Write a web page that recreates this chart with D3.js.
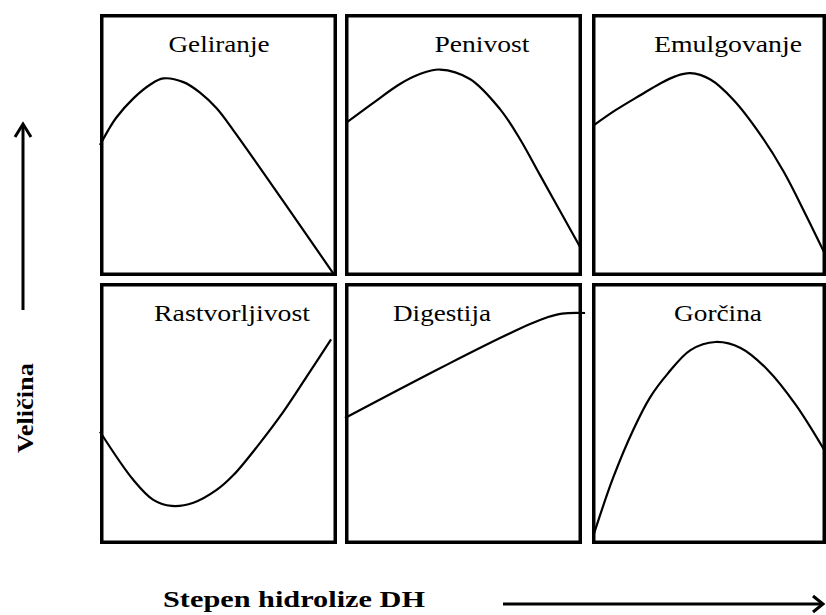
<!DOCTYPE html>
<html>
<head>
<meta charset="utf-8">
<script src="https://cdn.jsdelivr.net/npm/d3@7"></script>
<style>
  body { margin: 0; background: #fff; }
  text { font-family: "Liberation Serif", "Times New Roman", serif; fill: #000; }
</style>
</head>
<body>
<script>
// panel titles, left to right, top row then bottom row
var titles = ["Geliranje", "Penivost", "Emulgovanje", "Rastvorljivost", "Digestija", "Gorčina"];

// curve points, x and y as share of the panel (0..1, y up)
var gelX = [0, 0.035, 0.070, 0.141, 0.211, 0.267, 0.352, 0.422, 0.492, 0.562, 0.773, 0.984];
var gelY = [0.500, 0.557, 0.606, 0.678, 0.730, 0.754, 0.740, 0.700, 0.640, 0.557, 0.286, 0.010];
var penX = [0.004, 0.118, 0.232, 0.316, 0.401, 0.527, 0.654, 0.738, 0.823, 0.992];
var penY = [0.584, 0.660, 0.733, 0.771, 0.788, 0.752, 0.637, 0.523, 0.385, 0.111];
var emuX = [0.004, 0.099, 0.206, 0.292, 0.356, 0.420, 0.506, 0.605, 0.721, 0.820, 0.914, 0.991];
var emuY = [0.573, 0.632, 0.690, 0.735, 0.762, 0.774, 0.750, 0.672, 0.538, 0.397, 0.233, 0.092];
var rasX = [0, 0.141, 0.225, 0.302, 0.394, 0.492, 0.563, 0.668, 0.774, 0.872, 0.975];
var rasY = [0.430, 0.245, 0.169, 0.146, 0.158, 0.207, 0.264, 0.379, 0.507, 0.641, 0.784];
var digX = [0, 0.232, 0.443, 0.654, 0.781, 0.857, 0.916, 1.013];
var digY = [0.483, 0.594, 0.693, 0.789, 0.843, 0.870, 0.883, 0.885];
var gorX = [0.004, 0.090, 0.176, 0.249, 0.322, 0.421, 0.528, 0.635, 0.751, 0.871, 1.0];
var gorY = [0.027, 0.253, 0.437, 0.563, 0.651, 0.743, 0.774, 0.751, 0.667, 0.533, 0.349];

var yLabel = "Veličina";
var xLabel = "Stepen hidrolize DH";

var width = 826, height = 615;
var cols = [[100, 337], [345, 582], [592, 826]];
var rows = [[14, 276], [283, 544]];
// title placement: centre x, and width as drawn
var titleCx = [219, 482, 728, 232, 442, 718];
var titleW = [101, 95, 148, 156, 98, 88];

var svg = d3.select("body").append("svg")
    .attr("width", width)
    .attr("height", height);

var curves = [
  [gelX, gelY], [penX, penY], [emuX, emuY],
  [rasX, rasY], [digX, digY], [gorX, gorY]
];

curves.forEach(function (c, i) {
  var col = cols[i % 3], row = rows[Math.floor(i / 3)];
  var x = d3.scaleLinear().domain([0, 1]).range([col[0], col[1]]);
  var y = d3.scaleLinear().domain([0, 1]).range([row[1], row[0]]);
  var pts = c[0].map(function (v, k) { return [v, c[1][k]]; });

  var g = svg.append("g").attr("class", "panel");

  g.append("rect")
      .attr("x", col[0] + 1.75)
      .attr("y", row[0] + 1.75)
      .attr("width", col[1] - col[0] - 3.5)
      .attr("height", row[1] - row[0] - 3.5)
      .attr("fill", "none")
      .attr("stroke", "#000")
      .attr("stroke-width", 3.5);

  g.append("path")
      .datum(pts)
      .attr("fill", "none")
      .attr("stroke", "#000")
      .attr("stroke-width", 2.2)
      .attr("d", d3.line()
          .x(function (d) { return x(d[0]); })
          .y(function (d) { return y(d[1]); })
          .curve(d3.curveCatmullRom.alpha(0.5)));

  g.append("text")
      .attr("x", titleCx[i])
      .attr("y", row[0] + 38)
      .attr("text-anchor", "middle")
      .attr("font-family", "Liberation Serif")
      .attr("font-size", 23)
      .attr("textLength", titleW[i])
      .attr("lengthAdjust", "spacingAndGlyphs")
      .text(titles[i]);
});

// axis arrows
var arrow = svg.append("g")
    .attr("fill", "none")
    .attr("stroke", "#000")
    .attr("stroke-width", 3);

arrow.append("line").attr("x1", 23).attr("y1", 125).attr("x2", 23).attr("y2", 310);
arrow.append("path").attr("d", "M15,137 L23,124 L31,137");

arrow.append("line").attr("x1", 503).attr("y1", 604).attr("x2", 822).attr("y2", 604);
arrow.append("path").attr("d", "M813,596 L823,604 L813,612");

svg.append("text")
    .attr("transform", "translate(33,408) rotate(-90)")
    .attr("text-anchor", "middle")
    .attr("font-family", "Liberation Serif")
    .attr("font-size", 24)
    .attr("font-weight", "bold")
    .attr("textLength", 90)
    .attr("lengthAdjust", "spacingAndGlyphs")
    .text(yLabel);

svg.append("text")
    .attr("x", 163)
    .attr("y", 607)
    .attr("font-family", "Liberation Serif")
    .attr("font-size", 23)
    .attr("font-weight", "bold")
    .attr("textLength", 262)
    .attr("lengthAdjust", "spacingAndGlyphs")
    .text(xLabel);
</script>
</body>
</html>
